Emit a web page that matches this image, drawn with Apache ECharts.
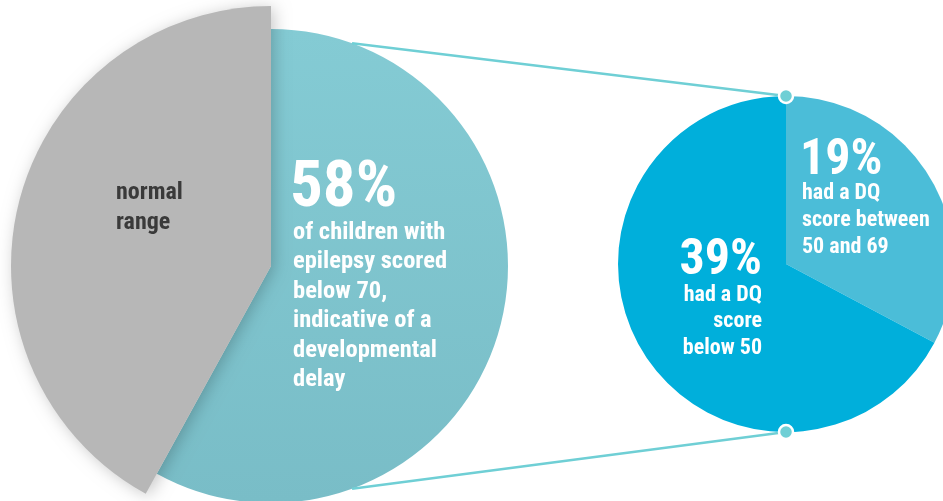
<!DOCTYPE html>
<html>
<head>
<meta charset="utf-8">
<script src="https://cdn.jsdelivr.net/npm/echarts@6/dist/echarts.min.js"></script>
<style>
  html, body { margin: 0; padding: 0; background: #fff; }
  #main { width: 943px; height: 501px; }
</style>
</head>
<body>
<div id="main"></div>
<script>
// data
const leftNames = ['below 70', 'normal range'];
const leftValues = [58, 42];
const rightNames = ['DQ 50-69', 'DQ below 50'];
const rightValues = [19, 39];

const FONT = '"Roboto Condensed", Roboto, sans-serif';

// layout
const L = { x: 271, y: 266, r: 237, rGray: 260 };
const R = { x: 786, y: 264, r: 168 };
const spread = 20 * Math.PI / 180; // where the connectors leave the big pie

const myChart = echarts.init(document.getElementById('main'));

const clear = 'rgba(0,0,0,0)';
const teal = new echarts.graphic.LinearGradient(0, 0, 0, 1, [
    { offset: 0, color: '#84cbd4' },
    { offset: 1, color: '#79bdc7' },
]);

const topL = [L.x + L.r * Math.sin(spread), L.y - L.r * Math.cos(spread)];
const botL = [L.x + L.r * Math.sin(spread), L.y + L.r * Math.cos(spread)];
const topR = [R.x, R.y - R.r];
const botR = [R.x, R.y + R.r];

function txt(text, x, y, size, opts) {
    return {
        type: 'text',
        z: 100,
        silent: true,
        style: Object.assign({
            text: text,
            x: x,
            y: y,
            fill: '#fff',
            font: 'bold ' + size + 'px ' + FONT,
            textAlign: 'left',
            textVerticalAlign: 'middle',
        }, opts || {}),
    };
}

function dot(p) {
    return {
        type: 'circle',
        z: 90,
        silent: true,
        shape: { cx: p[0], cy: p[1], r: 7 },
        style: { fill: '#6fcfd5', stroke: '#fff', lineWidth: 2.5 },
    };
}

function line(a, b) {
    return {
        type: 'line',
        z: 80,
        silent: true,
        shape: { x1: a[0], y1: a[1], x2: b[0], y2: b[1] },
        style: { stroke: '#6fcfd5', lineWidth: 2.5 },
    };
}

let option = {
    animation: false,
    series: [
        {
            // teal part of big pie
            type: 'pie',
            silent: true,
            z: 2,
            center: [L.x, L.y],
            radius: [0, L.r],
            startAngle: 90,
            clockwise: true,
            label: { show: false },
            labelLine: { show: false },
            data: [
                { name: leftNames[0], value: leftValues[0], itemStyle: { color: teal } },
                { name: leftNames[1], value: leftValues[1], itemStyle: { color: clear } },
            ],
        },
        {
            // grey part, bigger radius, shadow falls on teal
            type: 'pie',
            silent: true,
            z: 3,
            center: [L.x, L.y],
            radius: [0, L.rGray],
            startAngle: 90,
            clockwise: true,
            label: { show: false },
            labelLine: { show: false },
            data: [
                { name: leftNames[0], value: leftValues[0], itemStyle: { color: clear } },
                {
                    name: leftNames[1],
                    value: leftValues[1],
                    itemStyle: {
                        color: '#b7b7b7',
                        shadowBlur: 16,
                        shadowColor: 'rgba(0,0,0,0.22)',
                        shadowOffsetX: 3,
                        shadowOffsetY: 2,
                    },
                },
            ],
        },
        {
            type: 'pie',
            silent: true,
            z: 2,
            center: [R.x, R.y],
            radius: [0, R.r],
            startAngle: 90,
            clockwise: true,
            label: { show: false },
            labelLine: { show: false },
            data: [
                { name: rightNames[0], value: rightValues[0], itemStyle: { color: '#4bbdd8' } },
                { name: rightNames[1], value: rightValues[1], itemStyle: { color: '#00afdb' } },
            ],
        },
    ],
    graphic: [
        line(topL, topR),
        line(botL, botR),
        dot(topR),
        dot(botR),
        txt('normal\nrange', 116, 178, 24, { fill: '#3a3a3a', textVerticalAlign: 'top', lineHeight: 30 }),
        txt(leftValues[0] + '%', 290, 190, 65),
        txt('of children with\nepilepsy scored\nbelow 70,\nindicative of a\ndevelopmental\ndelay', 293, 218, 24.5,
            { textVerticalAlign: 'top', lineHeight: 29.5 }),
        txt(rightValues[0] + '%', 800, 161, 50),
        txt('had a DQ\nscore between\n50 and 69', 802, 180, 22, { textVerticalAlign: 'top', lineHeight: 27 }),
        txt(rightValues[1] + '%', 762, 261, 50, { textAlign: 'right' }),
        txt('had a DQ\nscore\nbelow 50', 762, 282, 22, { textAlign: 'right', textVerticalAlign: 'top', lineHeight: 26.5 }),
    ],
};

myChart.setOption(option);
</script>
</body>
</html>
